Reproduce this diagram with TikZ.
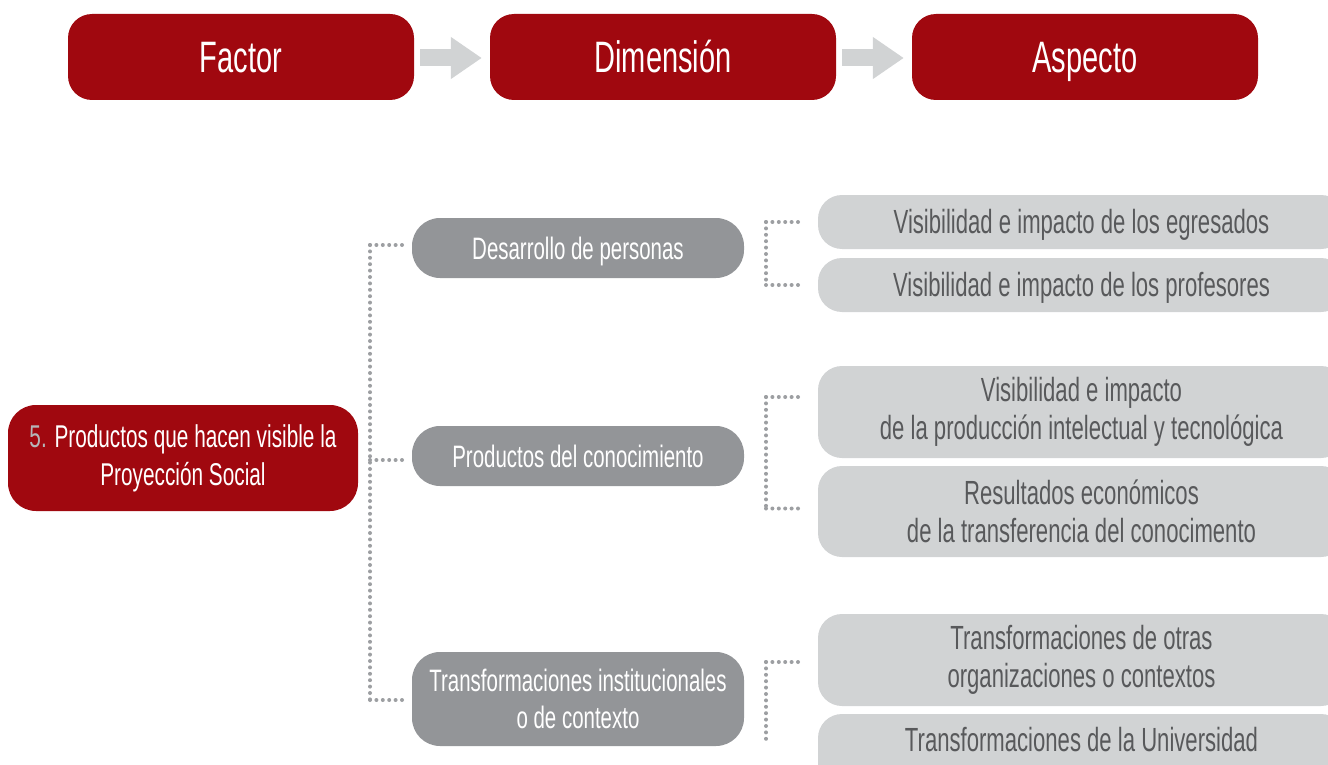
\documentclass[tikz,border=0pt]{standalone}
\usepackage{fontspec}
\setmainfont[FakeStretch=0.66]{Liberation Sans}
\usetikzlibrary{arrows.meta,calc}
\definecolor{redbox}{HTML}{A0080F}
\definecolor{dimgray}{HTML}{939598}
\definecolor{asplight}{HTML}{D1D3D4}
\definecolor{asptext}{HTML}{58595B}
\definecolor{dotgray}{HTML}{9D9FA2}
\definecolor{numgray}{HTML}{B5B6B8}
\tikzset{
  headbox/.style={fill=redbox, rounded corners=24pt, minimum width=346pt, minimum height=86pt,
    inner sep=0pt, text=white, font=\fontsize{44}{48}\selectfont, text height=31pt, text depth=0pt},
  factorbox/.style={fill=redbox, rounded corners=28pt, minimum width=350pt, minimum height=106pt,
    inner sep=0pt, text=white, align=center, font=\fontsize{31.5}{38}\selectfont},
  dimbox/.style={fill=dimgray, rounded corners=28pt, minimum width=332pt,
    inner sep=0pt, text=white, align=center, font=\fontsize{31}{37}\selectfont},
  oneline/.style={text height=22pt, text depth=0pt},
  aspbox/.style={fill=asplight, rounded corners=24pt, minimum width=527pt,
    inner sep=0pt, text=asptext, align=center, font=\fontsize{33.5}{38}\selectfont},
  aspfont/.style={text=asptext, font=\fontsize{33.5}{38}\selectfont, inner sep=0pt},
  headarrow/.style={draw=asplight, line width=17pt, -{Triangle[length=31pt,width=40pt]}},
  dotline/.style={draw=dotgray, line width=4pt, line cap=round, dash pattern=on 0pt off 6.4pt},
}
\begin{document}
\begin{tikzpicture}[x=1pt,y=-1pt]
\useasboundingbox (0,0) rectangle (1328,765);
\clip (0,0) rectangle (1328,765);
% header
\node[headbox] (hF) at (241,57) {Factor};
\node[headbox] (hD) at (663,57) {Dimensión};
\node[headbox] (hA) at (1085,57) {Aspecto};
\draw[headarrow] ([xshift=6pt,yshift=-1pt]hF.east) -- ([xshift=-8pt,yshift=-1pt]hD.west);
\draw[headarrow] ([xshift=6pt,yshift=-1pt]hD.east) -- ([xshift=-8pt,yshift=-1pt]hA.west);
% factor
\node[factorbox] (fac) at (183,458) {{\color{numgray}5.} Productos que hacen visible la\\Proyección Social};
% dimensions
\node[dimbox, oneline, minimum height=60pt] (d1) at (578,248) {Desarrollo de personas};
\node[dimbox, oneline, minimum height=60pt] (d2) at (578,456) {Productos del conocimiento};
\node[dimbox, minimum height=94pt] (d3) at (578,699) {Transformaciones institucionales\\o de contexto};
% aspects
\node[aspbox, oneline, minimum height=54pt] (a1) at (1081.5,222) {Visibilidad e impacto de los egresados};
\node[aspbox, oneline, minimum height=54pt] (a2) at (1081.5,285) {Visibilidad e impacto de los profesores};
\node[aspbox, minimum height=92pt] (a3) at (1081.5,412) {Visibilidad e impacto\\de la producción intelectual y tecnológica};
\node[aspbox, minimum height=91pt] (a4) at (1081.5,511.5) {Resultados económicos\\de la transferencia del conocimento};
\node[aspbox, minimum height=92pt] (a5) at (1081.5,660) {Transformaciones de otras\\organizaciones o contextos};
\node[aspbox, minimum height=86pt, label={[aspfont, oneline, yshift=17pt]center:Transformaciones de la Universidad}] (a6) at (1081.5,757) {};
% left dotted connectors
\coordinate (lv) at (370,0);
\draw[dotline, shorten >=8pt] ($(d1.west -| lv)+(0,-3)$) -- ($(d1.west)+(0,-3)$);
\draw[dotline] ($(d1.west -| lv)+(0,-3)$) -- ($(d3.west -| lv)+(0,1)$);
\draw[dotline, shorten >=8pt] ($(d2.west -| lv)+(0,4)$) -- ($(d2.west)+(0,4)$);
\draw[dotline, shorten >=8pt] ($(d3.west -| lv)+(0,1)$) -- ($(d3.west)+(0,1)$);
% right dotted connectors
\coordinate (rv) at (766,0);
\draw[dotline, shorten >=14pt] (a1.west -| rv) -- (a1.west);
\draw[dotline] (a1.west -| rv) -- (a2.west -| rv);
\draw[dotline, shorten >=14pt] (a2.west -| rv) -- (a2.west);
\draw[dotline, shorten >=14pt] ($(a3.west -| rv)+(0,-15)$) -- ($(a3.west)+(0,-15)$);
\draw[dotline] ($(a3.west -| rv)+(0,-15)$) -- ($(a4.west -| rv)+(0,-3)$);
\draw[dotline, shorten >=14pt] ($(a4.west -| rv)+(0,-3)$) -- ($(a4.west)+(0,-3)$);
\draw[dotline, shorten >=14pt] ($(a5.west -| rv)+(0,2)$) -- ($(a5.west)+(0,2)$);
\draw[dotline] ($(a5.west -| rv)+(0,2)$) -- ($(a6.west -| rv)+(0,-14)$);
\end{tikzpicture}
\end{document}
